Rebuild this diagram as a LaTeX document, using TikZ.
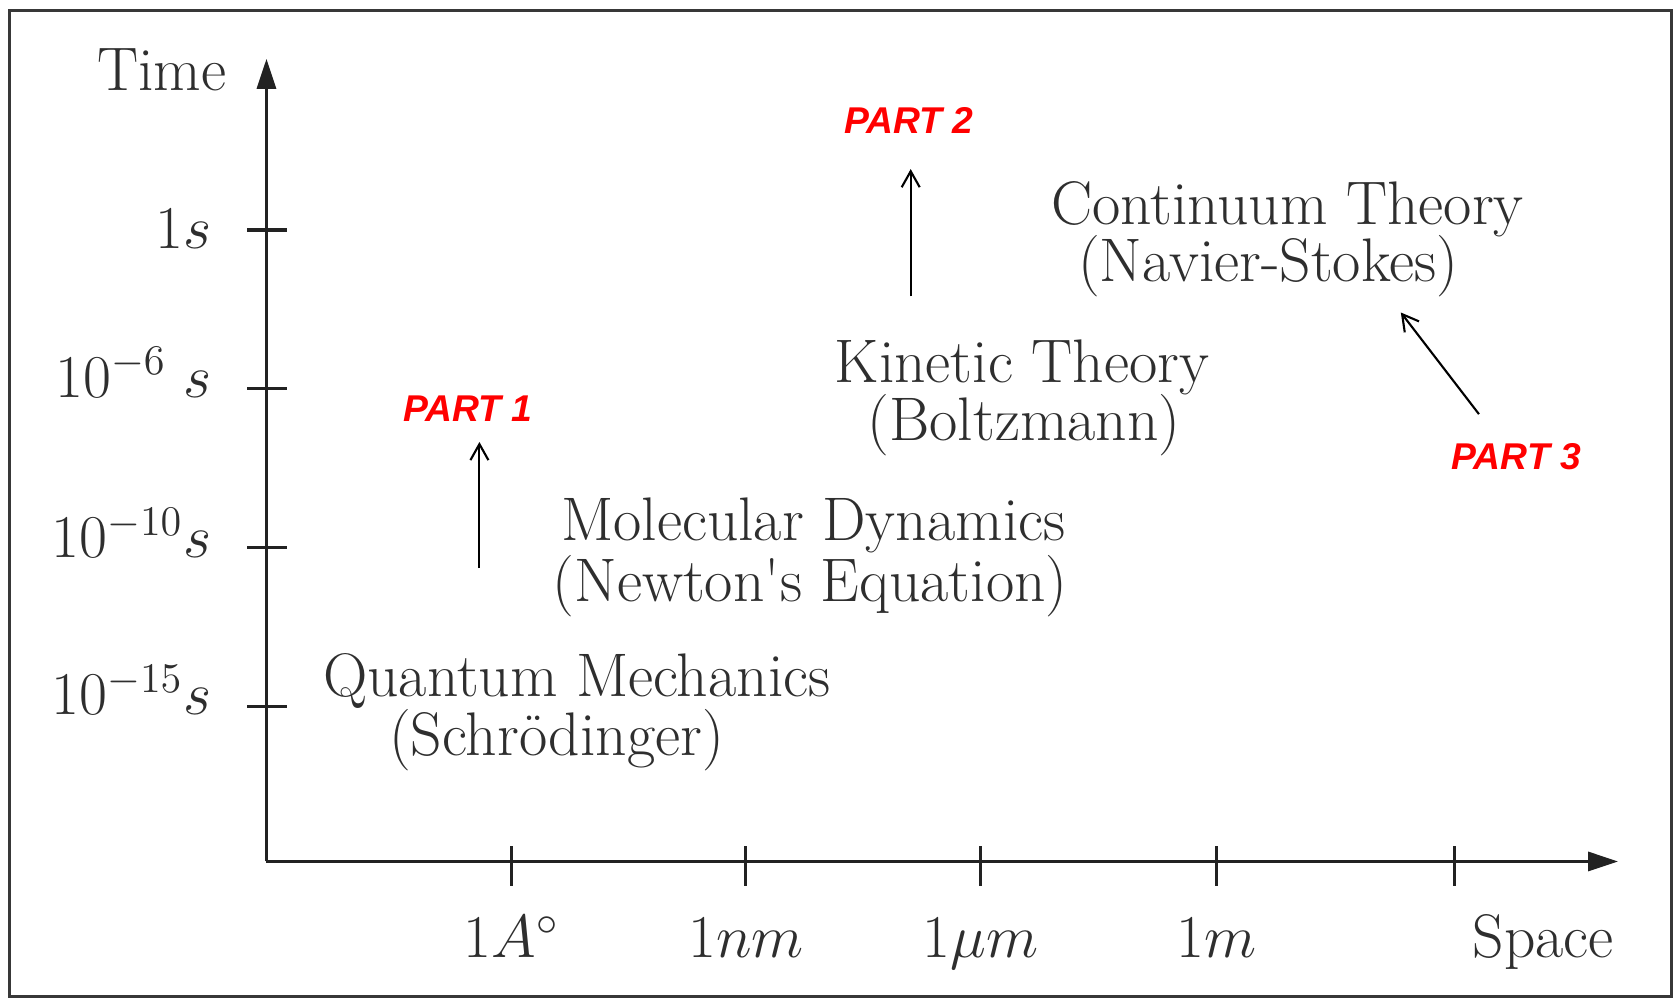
\documentclass[tikz,border=0pt]{standalone}
\usepackage{fontspec}
\newfontfamily\partfont{Liberation Sans}
\usetikzlibrary{arrows.meta}
\definecolor{ink}{HTML}{2E2E2E}
\definecolor{axisc}{HTML}{222222}
\definecolor{partred}{HTML}{FF0000}
\begin{document}
\begin{tikzpicture}[x=0.010702cm,y=-0.010702cm,
  lbl/.style={text=ink,inner sep=0pt,font=\fontsize{17.5}{21}\selectfont},
  partlbl/.style={text=partred,inner sep=0pt,font=\partfont\bfseries\itshape\fontsize{10.6}{13}\selectfont},
  axisline/.style={draw=axisc,line width=0.9pt},
  ticks/.style={draw=axisc,line width=0.9pt},
  pointer/.style={draw=black,line width=0.6pt,-{Straight Barb[length=1.6mm,width=1.8mm]}}]
\useasboundingbox (0,0) rectangle (1568,932);
\fill[white] (0,0) rectangle (1568,932);
% frame
\draw[draw=axisc!90,line width=1pt] (9,10) rectangle (1562,931);
% axes
\coordinate (O) at (249,805);
\coordinate (ytop) at (249,55);
\coordinate (xend) at (1512,805);
\draw[axisline,-{Triangle[length=3mm,width=1.9mm]}] (O) -- (ytop);
\draw[axisline,-{Triangle[length=3mm,width=1.9mm]}] (O) -- (xend);
% y ticks
\foreach \yy in {215,363,512,660}{
  \draw[ticks] (231,\yy) -- (268,\yy);
}
% x ticks
\foreach \xx in {478,697,916,1137,1359}{
  \draw[ticks] (\xx,791) -- (\xx,828);
}
% y labels
\node[lbl,anchor=base east] (time) at (212,85) {Time};
\node[lbl,anchor=base east] (ls1) at (198,232) {$1s$};
\node[lbl,anchor=base east] (ls2) at (198,371) {$10^{-6}\;s$};
\node[lbl,anchor=base east] (ls3) at (198,521) {$10^{-10}s$};
\node[lbl,anchor=base east] (ls4) at (198,668) {$10^{-15}s$};
% x labels
\node[lbl,anchor=base] (lx1) at (478,895) {$1A^\circ$};
\node[lbl,anchor=base] (lx2) at (697,895) {$1nm$};
\node[lbl,anchor=base] (lx3) at (916,895) {$1\mu m$};
\node[lbl,anchor=base] (lx4) at (1137,895) {$1m$};
\node[lbl,anchor=base] (space) at (1442,895) {Space};
% theory labels
\node[lbl,anchor=base] (ct1) at (1203,210) {Continuum Theory};
\node[lbl,anchor=base] (ct2) at (1185,263) {(Navier-Stokes)};
\node[lbl,anchor=base] (kt1) at (955,357) {Kinetic Theory};
\node[lbl,anchor=base] (kt2) at (957,412) {(Boltzmann)};
\node[lbl,anchor=base] (md1) at (760,505) {Molecular Dynamics};
\node[lbl,anchor=base] (md2) at (757,562) {(Newton\textquotesingle s Equation)};
\node[lbl,anchor=base] (qm1) at (539,651) {Quantum Mechanics};
\node[lbl,anchor=base] (qm2) at (520,706) {(Schrödinger)};
% parts
\node[partlbl,anchor=base] (p1) at (437,394) {PART 1};
\node[partlbl,anchor=base] (p2) at (849,125) {PART 2};
\node[partlbl,anchor=base] (p3) at (1417,439) {PART 3};
\coordinate (a1s) at (448,531);
\coordinate (a1e) at (448,413);
\coordinate (a2s) at (851,277);
\coordinate (a2e) at (851,158);
\coordinate (a3s) at (1382,387);
\coordinate (a3e) at (1309,292);
\draw[pointer] (a1s) -- (a1e);
\draw[pointer] (a2s) -- (a2e);
\draw[pointer] (a3s) -- (a3e);
\end{tikzpicture}
\end{document}
